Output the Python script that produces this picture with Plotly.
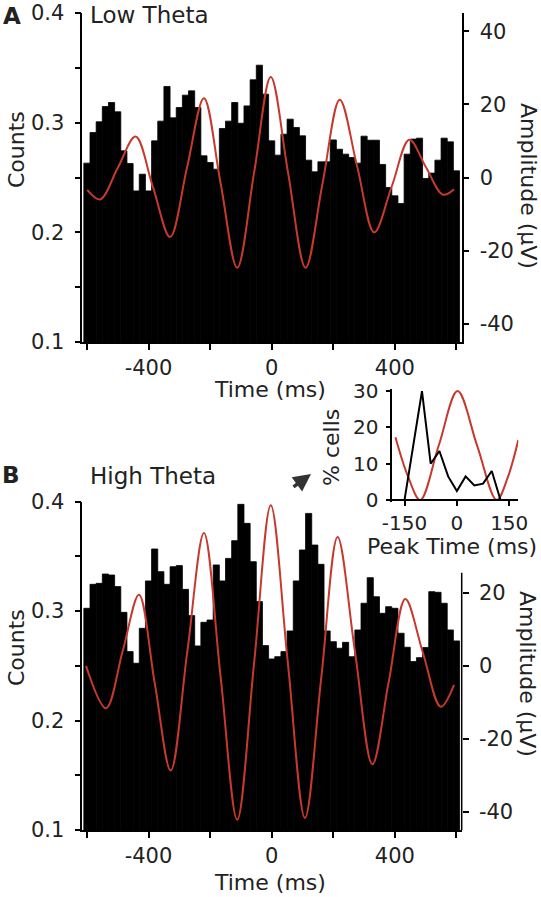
import plotly.graph_objects as go

W, H = 541, 897

# ---------------- data ----------------
bin_centers_ms = [-600 + 20 * i for i in range(61)]

counts_low = [0.2631, 0.2910, 0.3008, 0.3147, 0.3184, 0.3099, 0.2743, 0.2628, 0.2378, 0.2530,
              0.2378, 0.2834, 0.3014, 0.3330, 0.3044, 0.3138, 0.3251, 0.3290, 0.3138, 0.2698,
              0.2637, 0.2576, 0.2947, 0.3014, 0.3184, 0.2995, 0.3153, 0.3391, 0.3524, 0.3260,
              0.2834, 0.2704, 0.2895, 0.3032, 0.2956, 0.2880, 0.2658, 0.2552, 0.2643, 0.2643,
              0.2843, 0.2758, 0.2713, 0.2682, 0.2631, 0.2877, 0.2840, 0.2840, 0.2619, 0.2409,
              0.2333, 0.2263, 0.2713, 0.2850, 0.2859, 0.2491, 0.2540, 0.2658, 0.2859, 0.2825,
              0.2561]

counts_high = [0.3026, 0.3245, 0.3254, 0.3339, 0.3330, 0.3224, 0.2989, 0.2630, 0.2524, 0.2843,
               0.3276, 0.3568, 0.3361, 0.3245, 0.3406, 0.3416, 0.3199, 0.2959, 0.2682, 0.2898,
               0.2919, 0.3422, 0.3276, 0.3482, 0.3644, 0.3976, 0.3802, 0.3452, 0.3087, 0.2685,
               0.2563, 0.2584, 0.2630, 0.2819, 0.3276, 0.3559, 0.3893, 0.3604, 0.3428, 0.2819,
               0.2721, 0.2661, 0.2715, 0.2584, 0.2828, 0.3072, 0.3306, 0.3132, 0.2980, 0.3041,
               0.3026, 0.2798, 0.2670, 0.2539, 0.2575, 0.2667, 0.3178, 0.3172, 0.3072, 0.2828,
               0.2728]

lfp_low_t = [-599, -557, -500, -442, -386, -330, -275, -220, -166, -112, -57, -3,
             53, 110, 165, 221, 277, 333, 390, 447, 501, 556, 592]
lfp_low_uv = [-3.4, -6.0, 2.6, 11.2, -2.5, -16.3, 2.7, 21.7, -1.5, -24.7, 1.4, 27.5,
              1.4, -24.7, -1.7, 21.3, 3.2, -15.0, -2.4, 10.3, 2.8, -4.7, -3.2]

lfp_high_t = [-603, -538, -484, -431, -380, -328, -274, -220, -166, -112, -57, -3,
              52, 108, 161, 214, 270, 327, 380, 434, 491, 549, 592]
lfp_high_uv = [0.0, -11.6, 4.0, 19.5, -4.6, -28.7, 3.9, 36.4, -2.9, -42.2, 0.9, 44.0,
               1.2, -41.7, -3.2, 35.3, 4.2, -27.0, -4.4, 18.3, 3.6, -11.2, -5.2]

peak_t = [-175, -150, -125, -100, -75, -50, -25, 0, 25, 50, 75, 100, 125, 150, 175]
peak_pct = [0, 0, 15, 30, 10, 13.5, 6.5, 2.5, 6.5, 4, 4.5, 8, 0, 0, 0]

inset_lfp_t = [-176, -140, -105, -52, 2, 58, 114, 145, 176]
inset_lfp_v = [17.3, 6.5, 0, 15, 30, 15, 0, 6, 16.5]

x_ticks = [-600, -400, -200, 0, 200, 400, 600]
x_ticktext = ["", "-400", "", "0", "", "400", ""]
count_ticks = [0.1, 0.15, 0.2, 0.25, 0.3, 0.35, 0.4]
count_ticktext = ["0.1", "", "0.2", "", "0.3", "", "0.4"]
amp_ticks = [-40, -20, 0, 20, 40]
amp_ticktext_low = ["-40", "-20", "0", "20", "40"]
amp_ticks_high = [-40, -20, 0, 20]
amp_ticktext_high = ["-40", "-20", "0", "20"]
inset_xticks = [-150, 0, 150]
inset_xticktext = ["-150", "0", "150"]
inset_yticks = [0, 10, 20, 30]

# ---------------- style ----------------
FONT = "DejaVu Sans"
TXT = "#222222"
RED = "#c63a2e"


def px(x):
    return x / W


def py(y):
    return 1 - y / H


fig = go.Figure()

bar_marker = dict(color="black", line=dict(color="black", width=0.8))

# Panel A
fig.add_trace(go.Bar(x=bin_centers_ms, y=counts_low, width=20, marker=bar_marker,
                     xaxis="x", yaxis="y", showlegend=False))
fig.add_trace(go.Scatter(x=lfp_low_t, y=lfp_low_uv, mode="lines", line=dict(color=RED, width=2, shape="spline", smoothing=1.0),
                         xaxis="x", yaxis="y2", showlegend=False))
# Panel B
fig.add_trace(go.Bar(x=bin_centers_ms, y=counts_high, width=20, marker=bar_marker,
                     xaxis="x2", yaxis="y3", showlegend=False))
fig.add_trace(go.Scatter(x=lfp_high_t, y=lfp_high_uv, mode="lines", line=dict(color=RED, width=2, shape="spline", smoothing=1.0),
                         xaxis="x2", yaxis="y4", showlegend=False))
# Inset
fig.add_trace(go.Scatter(x=inset_lfp_t, y=inset_lfp_v, mode="lines", line=dict(color=RED, width=2, shape="spline", smoothing=1.0),
                         xaxis="x3", yaxis="y5", showlegend=False))
fig.add_trace(go.Scatter(x=peak_t, y=peak_pct, mode="lines", line=dict(color="black", width=2),
                         xaxis="x3", yaxis="y5", showlegend=False))

tickfont = dict(family=FONT, size=21, color=TXT)
common_axis = dict(showgrid=False, zeroline=False, showline=True, linecolor="black", linewidth=1.5,
                   ticks="outside", ticklen=6, tickwidth=1.5, tickcolor="black", tickfont=tickfont,
                   automargin=False)
inset_axis = {**common_axis, "tickfont": dict(family=FONT, size=20, color=TXT), "ticklen": 5}

xdom = [px(82.3), px(461.7)]
xrange_main = [-615, 617]

fig.update_layout(
    template="none",
    width=W, height=H, margin=dict(l=0, r=0, t=0, b=0, autoexpand=False),
    paper_bgcolor="white", plot_bgcolor="rgba(0,0,0,0)",
    barmode="overlay",
    xaxis=dict(domain=xdom, range=xrange_main, anchor="y", tickvals=x_ticks, ticktext=x_ticktext,
               ticklabelstandoff=0, **common_axis),
    yaxis=dict(domain=[py(342), py(13)], range=[0.1, 0.4], anchor="x", tickvals=count_ticks,
               ticktext=count_ticktext, ticklabelstandoff=6, **common_axis),
    yaxis2=dict(domain=[py(342), py(13)], range=[-45, 45], overlaying="y", side="right", anchor="x",
                tickvals=amp_ticks, ticktext=amp_ticktext_low, ticklabelstandoff=6, **common_axis),
    xaxis2=dict(domain=xdom, range=xrange_main, anchor="y3", tickvals=x_ticks, ticktext=x_ticktext,
                ticklabelstandoff=0, **common_axis),
    yaxis3=dict(domain=[py(830), py(501.7)], range=[0.1, 0.4], anchor="x2", tickvals=count_ticks,
                ticktext=count_ticktext, ticklabelstandoff=6, **common_axis),
    yaxis4=dict(domain=[py(830), py(501.7)], range=[-45, 45], overlaying="y3", side="right", anchor="x2",
                tickvals=amp_ticks_high, ticktext=amp_ticktext_high, ticklabelstandoff=6,
                **{**common_axis, "showline": False}),
    xaxis3=dict(domain=[px(392.3), px(518.3)], range=[-185, 176], anchor="free", position=py(500),
                tickvals=inset_xticks, ticktext=inset_xticktext, ticklabelstandoff=0, **inset_axis),
    yaxis5=dict(domain=[py(502.2), py(388.9)], range=[-0.6, 30.6], anchor="x3",
                tickvals=inset_yticks, ticklabelstandoff=3, **inset_axis),
)

# partial right axis line for panel B
fig.add_shape(type="line", xref="x2 domain", yref="y4", x0=1, x1=1, y0=-45, y1=25.5,
              line=dict(color="black", width=1.5))


def label(text, x, y, size=22, angle=0, bold=False, xanchor="center"):
    fig.add_annotation(text=f"<b>{text}</b>" if bold else text, x=px(x), y=py(y), xref="paper", yref="paper",
                       showarrow=False, textangle=angle, xanchor=xanchor, yanchor="middle",
                       font=dict(family=FONT, size=size, color=TXT))


label("A", 12, 16, size=23, bold=True)
label("Low Theta", 88, 15, size=23, xanchor="left")
label("Counts", 16, 150, angle=-90)
label("Amplitude (µV)", 528, 186, angle=90)
label("Time (ms)", 270, 390)

label("B", 11, 475, size=23, bold=True)
label("High Theta", 88, 476, size=23, xanchor="left")
label("Counts", 16, 648, angle=-90)
label("Amplitude (µV)", 528, 674, angle=90)
label("Time (ms)", 270, 882)

label("% cells", 332, 448, angle=-90)
label("Peak Time (ms)", 452, 546)

# arrow pointing to the inset
fig.add_annotation(x=px(311), y=py(474), xref="paper", yref="paper", ax=-19, ay=14,
                   showarrow=True, arrowhead=2, arrowsize=1, arrowwidth=3.5, arrowcolor="#333333", text="")

# remove the default 8px page margin so the 541x897 figure fills the window exactly
fig.write_html(
    "out.html",
    config={"displayModeBar": False},
    post_script="document.body.style.margin='0';document.body.style.overflow='hidden';"
                "document.documentElement.style.overflow='hidden';",
)
